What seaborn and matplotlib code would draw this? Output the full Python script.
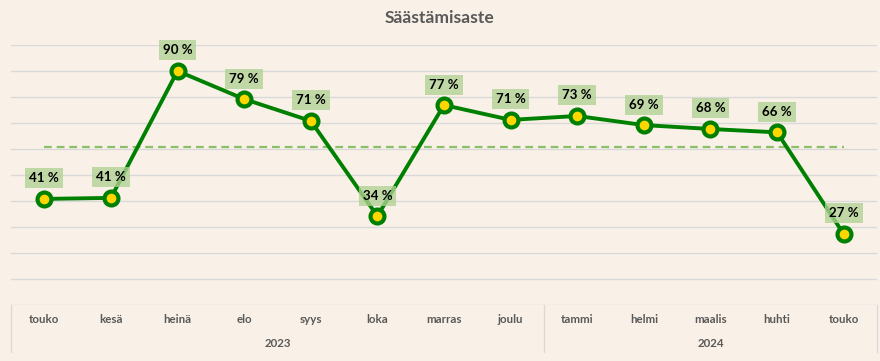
import matplotlib
matplotlib.use("Agg")
import matplotlib.pyplot as plt
import matplotlib.transforms as mtransforms
import seaborn as sns

# -----------------------------
# Data
# -----------------------------
months = ["touko", "kesä", "heinä", "elo", "syys", "loka", "marras",
          "joulu", "tammi", "helmi", "maalis", "huhti", "touko"]
year_labels = ["2023", "2024"]
year_counts = [8, 5]
savings_rate = [40.8, 41.2, 90.0, 79.2, 70.8, 34.2, 76.9,
                71.2, 72.7, 69.2, 67.7, 66.4, 27.3]
reference_level = 60.8

# -----------------------------
# Style
# -----------------------------
BG = "#f9f1e7"
GREEN = "#008000"
YELLOW = "#ffd700"
GRID = "#d9d9d9"
TEXT = "#595959"

sns.set_theme(style="white")
plt.rcParams["font.family"] = ["Lato", "DejaVu Sans"]

fig = plt.figure(figsize=(8.8, 3.61), dpi=100, facecolor=BG)
ax = fig.add_axes([11 / 880, 1 - 305 / 361, 866 / 880, 260 / 361])
ax.set_facecolor(BG)

idx = list(range(len(months)))

# reference dashed line
sns.lineplot(x=idx, y=[reference_level] * len(idx), ax=ax, color="#8cc068",
             lw=1.6, dashes=False, linestyle=(0, (3.5, 2.2)), zorder=2)

# main line
sns.lineplot(x=idx, y=savings_rate, ax=ax, color=GREEN, lw=2.8,
             marker="o", markersize=10, markerfacecolor=YELLOW,
             markeredgecolor=GREEN, markeredgewidth=3.0, zorder=3)

for i, v in enumerate(savings_rate):
    ax.annotate(f"{round(v)} %", (i, v), xytext=(0, 14.8), textcoords="offset points",
                ha="center", va="center", fontsize=9.6, fontweight="bold", color="black",
                bbox=dict(boxstyle="square,pad=0.3", fc="#b0d193", ec="none", alpha=0.78),
                zorder=5)

ax.set_xlim(-0.5, len(months) - 0.5)
ax.set_ylim(0, 100)
ax.set_yticks(range(0, 101, 10))
ax.set_yticklabels([])
ax.set_xticks([])
ax.tick_params(length=0)
ax.yaxis.grid(True, color=GRID, lw=1)
ax.xaxis.grid(False)
for s in ax.spines.values():
    s.set_visible(False)

# -----------------------------
# Two-level category axis
# -----------------------------
trans = mtransforms.blended_transform_factory(ax.transData, ax.transAxes)
h = 260.0
for i, m in enumerate(months):
    ax.text(i, -14.5 / h, m, transform=trans, ha="center", va="center",
            fontsize=8.3, fontweight="bold", color=TEXT)

start = 0
edges = [-0.5]
for lab, n in zip(year_labels, year_counts):
    center = start + (n - 1) / 2
    ax.text(center, -38.5 / h, lab, transform=trans, ha="center", va="center",
            fontsize=8.3, fontweight="bold", color=TEXT)
    start += n
    edges.append(start - 0.5)

for e in edges:
    ax.plot([e, e], [0, -47 / h], transform=trans, color=GRID, lw=1, clip_on=False)

fig.text(0.5, 1 - 18 / 361, "Säästämisaste", ha="center", va="center",
         fontsize=12.6, fontweight="bold", color=TEXT)

fig.savefig("out.png", dpi=100, facecolor=BG)
